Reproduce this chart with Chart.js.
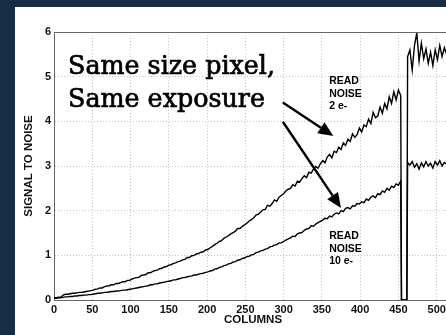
<!DOCTYPE html>
<html>
<head>
<meta charset="utf-8">
<script src="https://cdn.jsdelivr.net/npm/chart.js@4.4.1/dist/chart.umd.min.js"></script>
<style>
  html, body { margin: 0; padding: 0; width: 446px; height: 335px; overflow: hidden; background: #172d45; }
  #panel { position: absolute; left: 15px; top: 7px; right: 0; bottom: 0; background: #fff; }
  #wrap { position: absolute; left: 0; top: 0; width: 452px; height: 335px; }
</style>
</head>
<body>
<div id="panel"></div>
<div id="wrap"><canvas id="snrChart" width="452" height="335"></canvas></div>
<script>
// columns are sampled every STEP, from 0 up to 453
const STEP = 3;
// read noise 2 e-, columns 0..453
const readNoise2 = [
  0.05, 0.05, 0.06, 0.06, 0.11, 0.13, 0.13, 0.14, 0.15, 0.15, 0.16, 0.17, 0.17, 0.18, 0.19, 0.2, 0.21,
  0.22, 0.24, 0.25, 0.27, 0.27, 0.3, 0.31, 0.32, 0.34, 0.34, 0.37, 0.37, 0.39, 0.41, 0.41, 0.44, 0.44,
  0.47, 0.49, 0.5, 0.51, 0.55, 0.56, 0.57, 0.61, 0.61, 0.64, 0.66, 0.67, 0.7, 0.71, 0.74, 0.75, 0.78,
  0.79, 0.82, 0.83, 0.86, 0.87, 0.9, 0.91, 0.95, 0.95, 0.99, 1.0, 1.03, 1.04, 1.07, 1.08, 1.12,
  1.13, 1.17, 1.2, 1.24, 1.27, 1.31, 1.33, 1.38, 1.41, 1.44, 1.48, 1.51, 1.54, 1.6, 1.6, 1.65, 1.68,
  1.72, 1.77, 1.8, 1.84, 1.9, 1.92, 1.97, 2.02, 2.03, 2.12, 2.1, 2.16, 2.24, 2.21, 2.3, 2.34, 2.38,
  2.44, 2.48, 2.5, 2.58, 2.55, 2.66, 2.64, 2.72, 2.78, 2.74, 2.86, 2.84, 2.93, 2.99, 2.95, 3.05,
  3.12, 3.07, 3.2, 3.26, 3.18, 3.33, 3.3, 3.42, 3.37, 3.52, 3.46, 3.6, 3.55, 3.72, 3.64, 3.7, 3.85,
  3.76, 3.92, 3.88, 4.05, 3.95, 4.2, 4.08, 4.12, 4.32, 4.18, 4.4, 4.28, 4.55, 4.4, 4.66, 4.48, 4.7, 4.58
];
// read noise 10 e-, columns 0..453
const readNoise10 = [
  0.04, 0.04, 0.05, 0.05, 0.06, 0.07, 0.07, 0.08, 0.08, 0.09, 0.09, 0.1, 0.1, 0.11, 0.11, 0.12, 0.12,
  0.13, 0.14, 0.15, 0.15, 0.16, 0.17, 0.17, 0.18, 0.19, 0.19, 0.2, 0.2, 0.21, 0.22, 0.22, 0.23, 0.24,
  0.25, 0.26, 0.27, 0.28, 0.29, 0.3, 0.31, 0.32, 0.34, 0.34, 0.36, 0.36, 0.38, 0.39, 0.4, 0.41, 0.42,
  0.43, 0.45, 0.45, 0.47, 0.48, 0.5, 0.5, 0.52, 0.53, 0.54, 0.56, 0.56, 0.58, 0.59, 0.6, 0.62,
  0.63, 0.65, 0.66, 0.69, 0.7, 0.73, 0.74, 0.77, 0.78, 0.81, 0.82, 0.85, 0.86, 0.89, 0.9, 0.93, 0.94,
  0.97, 0.98, 1.01, 1.02, 1.06, 1.07, 1.1, 1.11, 1.14, 1.15, 1.19, 1.2, 1.23, 1.24, 1.28, 1.28, 1.31,
  1.34, 1.37, 1.39, 1.43, 1.42, 1.48, 1.5, 1.51, 1.56, 1.59, 1.6, 1.66, 1.65, 1.7, 1.73, 1.76,
  1.79, 1.83, 1.82, 1.88, 1.86, 1.92, 1.95, 1.93, 2.0, 1.98, 2.05, 2.07, 2.04, 2.11, 2.1, 2.16, 2.15,
  2.2, 2.18, 2.26, 2.23, 2.3, 2.33, 2.29, 2.38, 2.36, 2.44, 2.41, 2.5, 2.46, 2.55, 2.52, 2.6, 2.57, 2.66
];
// dead columns where both readings fall to zero
const gapCols = [454, 461];
// second block starts at column 462, same STEP
const AFTER_START = 462;
const readNoise2After = [5.45, 5.6, 5.15, 5.7, 5.98, 5.35, 5.75, 5.4, 5.62, 5.3, 5.55, 5.25, 5.6, 5.38, 5.7, 5.45, 5.65, 5.5];
const readNoise10After = [3.08, 3.02, 3.1, 2.97, 3.05, 2.93, 3.07, 2.98, 3.1, 3.0, 3.06, 2.95, 3.1, 3.02, 3.12, 3.0, 3.08, 3.04];

const xTicks = [0, 50, 100, 150, 200, 250, 300, 350, 400, 450, 500];
const yTicks = [0, 1, 2, 3, 4, 5, 6];

// annotation text and arrows, placed in data units (column, S/N)
const headline = ['Same size pixel,', 'Same exposure'];
const headlineAt = { col: 18.3, base: [5.05, 4.33] };
const arrows = [
  { from: [299, 4.42], to: [365, 3.67] },
  { from: [299, 3.99], to: [375, 2.06] }
];
const curveLabels = [
  { col: 359.5, top: 4.9, lines: ['READ', 'NOISE', '2 e-'] },
  { col: 359.5, top: 1.43, lines: ['READ', 'NOISE', '10 e-'] }
];

function toPoints(before, after) {
  const pts = before.map((v, i) => ({ x: i * STEP, y: v }));
  gapCols.forEach(c => pts.push({ x: c, y: 0 }));
  after.forEach((v, i) => pts.push({ x: AFTER_START + i * STEP, y: v }));
  return pts;
}

const SANS = "'Liberation Sans', Arial, sans-serif";

const annotate = {
  id: 'annotate',
  afterDatasetsDraw(chart) {
    const { ctx, chartArea, scales: { x, y } } = chart;
    ctx.save();
    // solid top edge of the axes box
    ctx.strokeStyle = '#666';
    ctx.lineWidth = 1;
    ctx.beginPath();
    ctx.moveTo(chartArea.left, Math.round(chartArea.top) + 0.5);
    ctx.lineTo(chartArea.right, Math.round(chartArea.top) + 0.5);
    ctx.stroke();

    // headline, thickened a little with a thin stroke
    ctx.fillStyle = '#000';
    ctx.strokeStyle = '#000';
    ctx.lineWidth = 0.7;
    ctx.font = '26px "DejaVu Serif"';
    ctx.textBaseline = 'alphabetic';
    ctx.textAlign = 'left';
    const w = ctx.measureText(headline[0]).width;
    const sx = 207 / w;
    headline.forEach((t, i) => {
      ctx.save();
      ctx.translate(x.getPixelForValue(headlineAt.col), y.getPixelForValue(headlineAt.base[i]));
      ctx.scale(sx, 1);
      ctx.fillText(t, 0, 0);
      ctx.strokeText(t, 0, 0);
      ctx.restore();
    });

    // arrows
    ctx.lineWidth = 2.4;
    arrows.forEach(a => {
      const x1 = x.getPixelForValue(a.from[0]), y1 = y.getPixelForValue(a.from[1]);
      const x2 = x.getPixelForValue(a.to[0]), y2 = y.getPixelForValue(a.to[1]);
      const ang = Math.atan2(y2 - y1, x2 - x1);
      const len = 15, half = 6.5;
      const bx = x2 - len * Math.cos(ang), by = y2 - len * Math.sin(ang);
      ctx.beginPath();
      ctx.moveTo(x1, y1);
      ctx.lineTo(bx, by);
      ctx.stroke();
      ctx.beginPath();
      ctx.moveTo(x2, y2);
      ctx.lineTo(bx + half * Math.sin(ang), by - half * Math.cos(ang));
      ctx.lineTo(bx - half * Math.sin(ang), by + half * Math.cos(ang));
      ctx.closePath();
      ctx.fill();
    });

    // curve labels
    ctx.font = 'bold 10.5px ' + SANS;
    ctx.textBaseline = 'middle';
    curveLabels.forEach(l => {
      const lx = x.getPixelForValue(l.col), ly = y.getPixelForValue(l.top);
      l.lines.forEach((t, i) => ctx.fillText(t, lx, ly + i * 12.5));
    });
    ctx.restore();
  }
};

const lineStyle = { borderColor: '#000', borderWidth: 1.4, pointRadius: 0, tension: 0, fill: false };

new Chart(document.getElementById('snrChart').getContext('2d'), {
  type: 'line',
  data: {
    datasets: [
      { label: 'READ NOISE 2 e-', data: toPoints(readNoise2, readNoise2After), ...lineStyle },
      { label: 'READ NOISE 10 e-', data: toPoints(readNoise10, readNoise10After), ...lineStyle }
    ]
  },
  options: {
    responsive: false,
    animation: false,
    devicePixelRatio: 1,
    layout: { padding: { top: 32, left: 0, right: 0, bottom: 0 } },
    plugins: { legend: { display: false }, tooltip: { enabled: false } },
    scales: {
      x: {
        type: 'linear', min: 0, max: 520,
        afterBuildTicks: s => { s.ticks = xTicks.map(v => ({ value: v })); },
        afterFit: s => { s.height = 35; },
        ticks: { color: '#111', font: { family: SANS, size: 11, weight: 'bold' }, padding: 3, maxRotation: 0 },
        grid: { color: '#c4c4c4', lineWidth: 1, drawTicks: false },
        border: { display: true, color: '#666', width: 1, dash: [1, 2] },
        title: { display: true, text: 'COLUMNS', color: '#111', font: { family: SANS, size: 11.5, weight: 'bold' }, padding: { top: 0, bottom: 8 } }
      },
      y: {
        min: 0, max: 6,
        afterBuildTicks: s => { s.ticks = yTicks.map(v => ({ value: v })); },
        afterFit: s => { s.width = 54; },
        ticks: { color: '#111', font: { family: SANS, size: 11, weight: 'bold' }, padding: 3 },
        grid: { color: '#c4c4c4', lineWidth: 1, drawTicks: false },
        border: { display: true, color: '#666', width: 1, dash: [1, 2] },
        title: { display: true, text: 'SIGNAL TO NOISE', color: '#111', font: { family: SANS, size: 11.5, weight: 'bold' }, padding: { top: 22, bottom: 0 } }
      }
    }
  },
  plugins: [annotate]
});
</script>
</body>
</html>
